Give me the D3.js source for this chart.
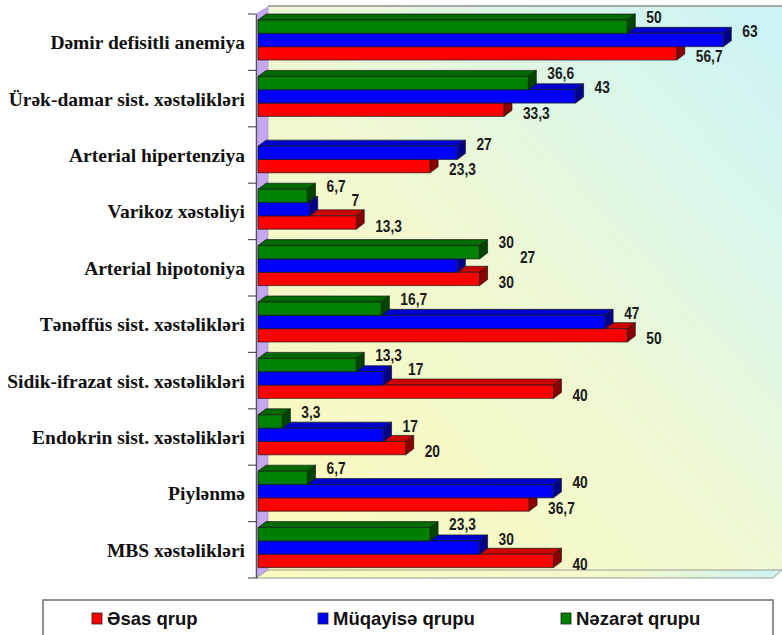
<!DOCTYPE html>
<html>
<head>
<meta charset="utf-8">
<script src="https://cdn.jsdelivr.net/npm/d3@7/dist/d3.min.js"></script>
<style>
  html, body { margin: 0; padding: 0; background: #fff; }
  svg { display: block; }
</style>
</head>
<body>
<script>
// ---- DATA ----
const categories = [
  "Dəmir defisitli anemiya",
  "Ürək-damar sist. xəstəlikləri",
  "Arterial hipertenziya",
  "Varikoz xəstəliyi",
  "Arterial hipotoniya",
  "Tənəffüs sist. xəstəlikləri",
  "Sidik-ifrazat sist. xəstəlikləri",
  "Endokrin sist. xəstəlikləri",
  "Piylənmə",
  "MBS xəstəlikləri"
];
const esasQrup      = [56.7, 33.3, 23.3, 13.3, 30, 50, 40, 20, 36.7, 40];
const muqayiseQrupu = [63, 43, 27, 7, 27, 47, 17, 17, 40, 30];
const nezaretQrupu  = [50, 36.6, null, 6.7, 30, 16.7, 13.3, 3.3, 6.7, 23.3];
const seriesNames   = ["Əsas qrup", "Müqayisə qrupu", "Nəzarət qrupu"];
const valueDomain   = [0, 70];

// ---- LAYOUT ----
const W = 782, H = 635;
const svg = d3.select("body").append("svg").attr("width", W).attr("height", H);
const defs = svg.append("defs");

const axisX = 256, plotTop = 14, plotBottom = 578;
const wallDX = 12, wallDY = 7;
const barDX = 8, barDY = 6;

const x = d3.scaleLinear().domain(valueDomain).range([258, 775]);
const y = d3.scaleBand().domain(categories).range([plotTop, plotBottom]).padding(0);

const series = [
  { name: seriesNames[2], values: nezaretQrupu, front: "#008000", top: "#006a00", side: "#004400", key: "g" },
  { name: seriesNames[1], values: muqayiseQrupu, front: "#0000ff", top: "#0000cc", side: "#000088", key: "b" },
  { name: seriesNames[0], values: esasQrup, front: "#ff0000", top: "#cc0000", side: "#8a0000", key: "r" }
];
const inner = d3.scaleBand().domain(series.map(s => s.key)).range([6, 46]).padding(0);

// gradients
const gw = defs.append("linearGradient").attr("id", "wallGrad")
  .attr("x1", "0").attr("y1", "1").attr("x2", "1").attr("y2", "0");
gw.append("stop").attr("offset", "0").attr("stop-color", "#fbfbbb");
gw.append("stop").attr("offset", "0.45").attr("stop-color", "#f1f8cf");
gw.append("stop").attr("offset", "0.8").attr("stop-color", "#d8f6ec");
gw.append("stop").attr("offset", "1").attr("stop-color", "#c9f3f6");

const gf = defs.append("linearGradient").attr("id", "floorGrad")
  .attr("x1", "0").attr("y1", "0").attr("x2", "1").attr("y2", "0");
gf.append("stop").attr("offset", "0").attr("stop-color", "#fbfbbd");
gf.append("stop").attr("offset", "0.7").attr("stop-color", "#f4f9cc");
gf.append("stop").attr("offset", "1").attr("stop-color", "#cdf3f3");

const wallTop = plotTop - wallDY;
// back wall
svg.append("polygon")
  .attr("points", [[axisX + wallDX, wallTop], [W, wallTop], [W, plotBottom - 8], [axisX + wallDX, plotBottom - 8]].join(" "))
  .attr("fill", "url(#wallGrad)");
svg.append("line").attr("x1", axisX + wallDX).attr("x2", W).attr("y1", wallTop - 1).attr("y2", wallTop - 1)
  .attr("stroke", "#a8a8a8").attr("stroke-width", 2);
// left wall
svg.append("polygon")
  .attr("points", [[axisX, plotTop], [axisX + wallDX, wallTop], [axisX + wallDX, plotBottom - 8], [axisX, plotBottom]].join(" "))
  .attr("fill", "#c7a7f2").attr("stroke", "#9a86b8").attr("stroke-width", 0.6);
// floor
svg.append("polygon")
  .attr("points", [[axisX, plotBottom], [axisX + wallDX, plotBottom - 8], [W, plotBottom - 8], [773, plotBottom]].join(" "))
  .attr("fill", "url(#floorGrad)").attr("stroke", "#9a9a9a").attr("stroke-width", 1);

// ---- BARS ----
const placedLabels = [];
const barBoxes = [];
const gBars = svg.append("g");
const gLabels = svg.append("g");
const labelScaleX = 0.86;

categories.forEach((cat, i) => {
  const order = series.slice().reverse();
  order.forEach(s => {
    const v = s.values[i];
    if (v == null) return;
    const x1 = x(0), x2 = x(v);
    const yt = y(cat) + inner(s.key), h = inner.bandwidth();
    const g = gBars.append("g").attr("stroke", "#1a1a1a").attr("stroke-width", 0.7).attr("stroke-linejoin", "round");
    g.append("polygon").attr("points", [[x1, yt], [x1 + barDX, yt - barDY], [x2 + barDX, yt - barDY], [x2, yt]].join(" ")).attr("fill", s.top);
    g.append("polygon").attr("points", [[x2, yt], [x2 + barDX, yt - barDY], [x2 + barDX, yt + h - barDY], [x2, yt + h]].join(" ")).attr("fill", s.side);
    g.append("rect").attr("x", x1).attr("y", yt).attr("width", x2 - x1).attr("height", h).attr("fill", s.front);
    barBoxes.push({ cat: i, x0: x1, x1: x2 + barDX, y0: yt - barDY, y1: yt + h });
  });
  series.forEach(s => {
    const v = s.values[i];
    if (v == null) return;
    const yt = y(cat) + inner(s.key);
    const cy = s.key === "g" ? yt - 3 : s.key === "b" ? yt - 2 : yt + 10;
    let lx = x(v) + barDX + 11;
    const txt = String(v).replace(".", ",");
    const t = gLabels.append("text")
      .attr("x", 0).attr("y", 0).attr("dy", "0.36em")
      .attr("font-family", "'Liberation Sans', Arial, sans-serif")
      .attr("font-weight", "bold").attr("font-size", 16)
      .attr("fill", "#1a1a1a").text(txt);
    const w = t.node().getComputedTextLength() * labelScaleX;
    let moved = true, guard = 0;
    while (moved && guard++ < 12) {
      moved = false;
      // against bars (tight vertical box)
      for (const b of barBoxes.filter(b => b.cat === i)) {
        if (cy - 5 < b.y1 && cy + 5 > b.y0 && lx < b.x1 && lx + w > b.x0) {
          lx = b.x1 + 5; moved = true;
        }
      }
      // against other labels (full text height)
      for (const b of placedLabels.filter(b => b.cat === i)) {
        if (cy - 9 < b.y1 && cy + 9 > b.y0 && lx < b.x1 + 3 && lx + w > b.x0) {
          lx = b.x1 + 6; moved = true;
        }
      }
    }
    t.attr("transform", `translate(${lx},${cy}) scale(${labelScaleX},1)`);
    placedLabels.push({ cat: i, x0: lx, x1: lx + w, y0: cy - 9, y1: cy + 9 });
  });
});

// ---- AXIS ----
const axis = d3.axisLeft(y).tickSizeInner(0).tickSizeOuter(0).tickPadding(11);
const gAxis = svg.append("g").attr("transform", `translate(${axisX},0)`).call(axis);
gAxis.select(".domain").attr("stroke", "#555").attr("stroke-width", 1.2);
gAxis.selectAll(".tick text")
  .attr("font-family", "'Liberation Serif', 'Times New Roman', serif")
  .attr("font-weight", "bold").attr("font-size", 19.5).attr("fill", "#111")
  .attr("dy", "0.36em");
const boundaries = categories.map(c => y(c)).concat([plotBottom]);
svg.append("g").selectAll("line").data(boundaries).join("line")
  .attr("x1", axisX - 8).attr("x2", axisX).attr("y1", d => d).attr("y2", d => d)
  .attr("stroke", "#555").attr("stroke-width", 1.2);

// ---- LEGEND ----
const legend = svg.append("g");
legend.append("rect").attr("x", 43).attr("y", 600).attr("width", 730).attr("height", 50)
  .attr("fill", "#fff").attr("stroke", "#6e6e6e").attr("stroke-width", 1.5);
const legendItems = [
  { name: seriesNames[0], color: "#ff0000", x: 92 },
  { name: seriesNames[1], color: "#0000ff", x: 318 },
  { name: seriesNames[2], color: "#008000", x: 561 }
];
legendItems.forEach(it => {
  legend.append("rect").attr("x", it.x).attr("y", 613).attr("width", 10).attr("height", 11)
    .attr("fill", it.color).attr("stroke", "#222").attr("stroke-width", 0.8);
  legend.append("text").attr("x", it.x + 15).attr("y", 625)
    .attr("font-family", "'Liberation Sans', Arial, sans-serif")
    .attr("font-weight", "bold").attr("font-size", 18.5).attr("fill", "#111")
    .text(it.name);
});
</script>
</body>
</html>
